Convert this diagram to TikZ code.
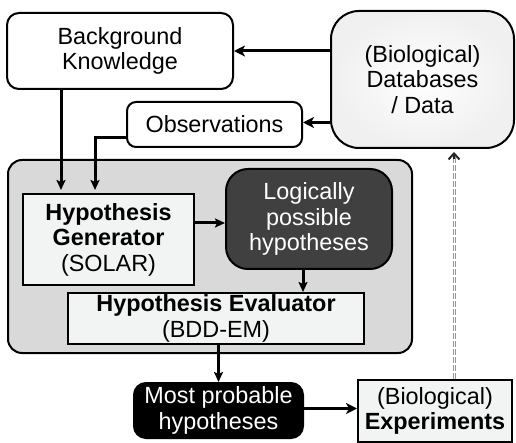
\documentclass[tikz,border=0pt]{standalone}
\usepackage{fontspec}
\setmainfont{Liberation Sans}
\usetikzlibrary{arrows.meta,shapes.misc,calc}
\definecolor{boxfill}{HTML}{F2F4F3}
\definecolor{contfill}{HTML}{D9D9D9}
\definecolor{darkfill}{HTML}{404040}
\begin{document}
\begin{tikzpicture}[x=1pt,y=-1pt,
  every node/.style={font=\fontsize{23.4}{25.5}\selectfont, align=center, inner sep=0pt},
  rbox/.style={draw=black, line width=2pt, rounded corners=#1},
  sbox/.style={draw=black, line width=2pt, fill=boxfill},
  arr/.style={line width=3pt, -{Stealth[length=11pt,width=11pt,inset=3pt]}},
  sarr/.style={line width=3pt, -{Stealth[length=10pt,width=9pt,inset=2pt]}},
  dgray/.style={draw=gray!80, line width=3pt, dash pattern=on 6pt off 2pt},
  dwhite/.style={draw=white, line width=1pt}
]
\useasboundingbox (0,0) rectangle (516,443);
% container
\node[rbox=14pt, fill=contfill, minimum width=404pt, minimum height=193pt] (cont) at (210,256.5) {};
% top boxes
\node[rbox=12pt, fill=white, minimum width=226pt, minimum height=76pt] (BK) at (120,51) {Background\\Knowledge};
\node[rbox=28pt, inner color=white, outer color=gray!12, minimum width=183pt, minimum height=137pt] (DB) at (422.5,79.5) {(Biological)\\Databases\\/ Data};
\node[rbox=9pt, fill=white, minimum width=175pt, minimum height=45pt] (Obs) at (214.5,124.5) {Observations};
% inner boxes
\node[sbox, minimum width=171pt, minimum height=91pt] (Gen) at (108.5,239.5) {\textbf{Hypothesis}\\\textbf{Generator}\\(SOLAR)};
\node[rbox=22pt, fill=darkfill, text=white, minimum width=166pt, minimum height=100pt] (Logic) at (309,219) {Logically\\possible\\hypotheses};
\node[sbox, minimum width=296pt, minimum height=51pt] (Eval) at (216,318.5) {\textbf{Hypothesis Evaluator}\\(BDD-EM)};
% bottom boxes
\node[rbox=12pt, fill=black, text=white, minimum width=169pt, minimum height=55pt] (Most) at (218.5,410.5) {Most probable\\hypotheses};
\node[sbox, minimum width=154pt, minimum height=62pt] (Exp) at (435,411) {(Biological)\\\textbf{Experiments}};
% helper coordinates
\coordinate (bkx) at (61,0);
\coordinate (obx) at (95,0);
\coordinate (dtop) at ([xshift=19pt,yshift=-8pt]Exp.north |- DB.south);
% connectors
\draw[arr] (DB.west |- BK.east) -- (BK.east);
\draw[arr] ([yshift=2pt]DB.west |- Obs.east) -- ([yshift=2pt]Obs.east);
\draw[sarr] (bkx |- BK.south) -- ([yshift=3pt]bkx |- Gen.north);
\draw[sarr] ([yshift=-13.5pt]Obs.west) -| ([yshift=3pt]obx |- Gen.north);
\draw[sarr] ([yshift=-4pt]Gen.east |- Logic.west) -- ([yshift=-4pt]Logic.west);
\draw[sarr] ([xshift=-6pt]Logic.south) -- ([xshift=-6pt]Logic.south |- Eval.north);
\draw[sarr] (Most.north |- Eval.south) -- (Most.north);
\draw[arr] ([yshift=2pt]Most.east) -- ([yshift=2pt]Exp.west |- Most.east);
% dashed feedback arrow
\draw[dgray] ([xshift=19pt]Exp.north) -- (dtop);
\draw[dwhite] ([xshift=19pt]Exp.north) -- (dtop);
\draw[line width=2pt, draw=black!85, -{Straight Barb[length=6pt,width=11pt,line width=2pt]}] ([yshift=-2pt]dtop) -- ([xshift=19pt,yshift=-3pt]Exp.north |- DB.south);
\end{tikzpicture}
\end{document}
